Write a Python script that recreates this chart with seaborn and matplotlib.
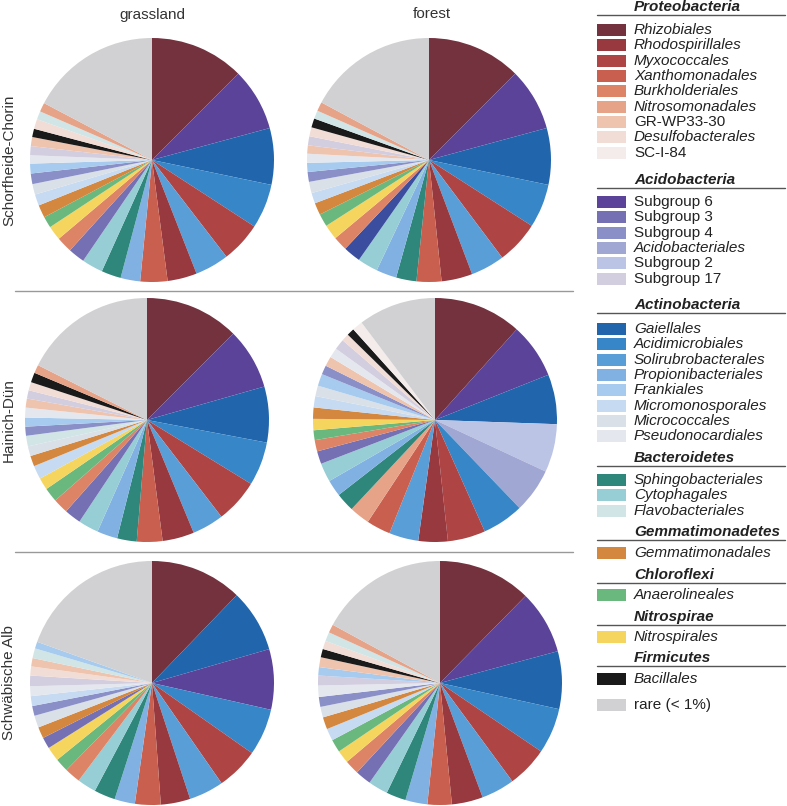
import seaborn as sns
import matplotlib.pyplot as plt
from matplotlib.patches import Rectangle

# ============================================================
# 1. DATA (clockwise from 12 o'clock, % of reads)
# ============================================================
sch_grass_orders = ["Rhizobiales", "Subgroup 6", "Gaiellales", "Acidimicrobiales", "Myxococcales",
                    "Solirubrobacterales", "Rhodospirillales", "Xanthomonadales", "Propionibacteriales",
                    "Sphingobacteriales", "Cytophagales", "Subgroup 3", "Burkholderiales", "Nitrospirales",
                    "Anaerolineales", "Gemmatimonadales", "Micromonosporales", "Micrococcales", "Subgroup 4",
                    "Frankiales", "Pseudonocardiales", "Subgroup 17", "GR-WP33-30", "Bacillales",
                    "Desulfobacterales", "Flavobacteriales", "Nitrosomonadales", "rare (< 1%)"]
sch_grass_values = [12.5, 8.3, 7.5, 5.9, 5.4, 4.5, 3.9, 3.6, 2.6, 2.6, 2.8, 2.2, 2.1, 1.9,
                    1.5, 1.7, 1.5, 1.4, 1.4, 1.3, 1.1, 1.2, 1.2, 1.1, 1.3, 1.1, 1.2, 17.3]

sch_forest_orders = ["Rhizobiales", "Subgroup 6", "Gaiellales", "Acidimicrobiales", "Myxococcales",
                     "Solirubrobacterales", "Rhodospirillales", "Xanthomonadales", "Sphingobacteriales",
                     "Propionibacteriales", "Cytophagales", "unlisted", "Burkholderiales", "Nitrospirales",
                     "Anaerolineales", "Gemmatimonadales", "Micromonosporales", "Micrococcales", "Subgroup 4",
                     "Frankiales", "Pseudonocardiales", "GR-WP33-30", "Subgroup 17", "Desulfobacterales",
                     "Bacillales", "Flavobacteriales", "Nitrosomonadales", "rare (< 1%)"]
sch_forest_values = [12.5, 8.3, 7.5, 5.8, 5.7, 4.5, 4.1, 3.3, 2.7, 2.7, 2.7, 2.3, 1.9, 2.0,
                     1.7, 1.6, 1.4, 1.5, 1.3, 1.2, 1.2, 1.1, 1.2, 1.2, 1.2, 1.1, 1.2, 17.2]

hai_grass_orders = ["Rhizobiales", "Subgroup 6", "Gaiellales", "Acidimicrobiales", "Myxococcales",
                    "Solirubrobacterales", "Rhodospirillales", "Xanthomonadales", "Sphingobacteriales",
                    "Propionibacteriales", "Cytophagales", "Subgroup 3", "Burkholderiales", "Anaerolineales",
                    "Nitrospirales", "Micromonosporales", "Gemmatimonadales", "Micrococcales",
                    "Flavobacteriales", "Subgroup 4", "Frankiales", "Pseudonocardiales", "GR-WP33-30",
                    "Subgroup 17", "Desulfobacterales", "Bacillales", "Nitrosomonadales", "rare (< 1%)"]
hai_grass_values = [12.5, 8.1, 7.4, 5.8, 5.8, 4.2, 4.2, 3.4, 2.6, 2.7, 2.7, 2.2, 2.0, 1.9,
                    1.6, 1.8, 1.4, 1.3, 1.4, 1.2, 1.2, 1.3, 1.2, 1.1, 1.1, 1.3, 1.1, 17.6]

hai_forest_orders = ["Rhizobiales", "Subgroup 6", "Gaiellales", "Subgroup 2", "Acidobacteriales",
                     "Acidimicrobiales", "Myxococcales", "Rhodospirillales", "Solirubrobacterales",
                     "Xanthomonadales", "Nitrosomonadales", "Sphingobacteriales", "Propionibacteriales",
                     "Cytophagales", "Subgroup 3", "Burkholderiales", "Anaerolineales", "Nitrospirales",
                     "Gemmatimonadales", "Micromonosporales", "Micrococcales", "Frankiales", "Subgroup 4",
                     "GR-WP33-30", "Pseudonocardiales", "Subgroup 17", "Desulfobacterales", "Bacillales",
                     "SC-I-84", "rare (< 1%)"]
hai_forest_values = [11.7, 7.3, 6.6, 6.4, 5.9, 5.5, 5.0, 3.9, 3.9, 3.2, 2.7, 2.5, 2.2, 2.5, 1.7,
                     1.5, 1.3, 1.5, 1.5, 1.5, 1.4, 1.6, 1.2, 1.3, 1.3, 1.4, 1.0, 1.0, 1.4, 10.3]

alb_grass_orders = ["Rhizobiales", "Gaiellales", "Subgroup 6", "Acidimicrobiales", "Myxococcales",
                    "Solirubrobacterales", "Rhodospirillales", "Xanthomonadales", "Propionibacteriales",
                    "Sphingobacteriales", "Cytophagales", "Burkholderiales", "Anaerolineales", "Nitrospirales",
                    "Subgroup 3", "Gemmatimonadales", "Micrococcales", "Subgroup 4", "Micromonosporales",
                    "Pseudonocardiales", "Subgroup 17", "Desulfobacterales", "GR-WP33-30",
                    "Flavobacteriales", "Frankiales", "rare (< 1%)"]
alb_grass_values = [12.2, 8.3, 8.0, 6.2, 5.6, 4.6, 3.9, 3.4, 2.7, 2.8, 2.5, 2.1, 1.8, 1.9,
                    1.5, 1.5, 1.6, 1.3, 1.3, 1.3, 1.4, 1.2, 1.1, 1.3, 0.9, 19.5]

alb_forest_orders = ["Rhizobiales", "Subgroup 6", "Gaiellales", "Acidimicrobiales", "Myxococcales",
                     "Solirubrobacterales", "Rhodospirillales", "Xanthomonadales", "Propionibacteriales",
                     "Sphingobacteriales", "Cytophagales", "Subgroup 3", "Burkholderiales", "Nitrospirales",
                     "Anaerolineales", "Micromonosporales", "Gemmatimonadales", "Micrococcales", "Subgroup 4",
                     "Pseudonocardiales", "Subgroup 17", "Frankiales", "GR-WP33-30", "Bacillales",
                     "Desulfobacterales", "Flavobacteriales", "Nitrosomonadales", "rare (< 1%)"]
alb_forest_values = [12.3, 8.4, 7.6, 6.0, 5.4, 4.4, 4.1, 3.2, 2.9, 2.6, 2.6, 2.1, 1.9, 1.7,
                     1.7, 1.6, 1.6, 1.4, 1.3, 1.5, 1.3, 1.1, 1.3, 1.1, 1.1, 1.2, 1.1, 17.0]

regions = ["Schorfheide-Chorin", "Hainich-Dün", "Schwäbische Alb"]
habitats = ["grassland", "forest"]

# legend groups (phylum -> orders)
phyla = ["Proteobacteria", "Acidobacteria", "Actinobacteria", "Bacteroidetes",
         "Gemmatimonadetes", "Chloroflexi", "Nitrospirae", "Firmicutes"]
phylum_orders = [
    ["Rhizobiales", "Rhodospirillales", "Myxococcales", "Xanthomonadales", "Burkholderiales",
     "Nitrosomonadales", "GR-WP33-30", "Desulfobacterales", "SC-I-84"],
    ["Subgroup 6", "Subgroup 3", "Subgroup 4", "Acidobacteriales", "Subgroup 2", "Subgroup 17"],
    ["Gaiellales", "Acidimicrobiales", "Solirubrobacterales", "Propionibacteriales", "Frankiales",
     "Micromonosporales", "Micrococcales", "Pseudonocardiales"],
    ["Sphingobacteriales", "Cytophagales", "Flavobacteriales"],
    ["Gemmatimonadales"],
    ["Anaerolineales"],
    ["Nitrospirales"],
    ["Bacillales"],
]
upright_names = ["GR-WP33-30", "SC-I-84", "Subgroup 6", "Subgroup 3", "Subgroup 4",
                 "Subgroup 2", "Subgroup 17", "rare (< 1%)"]

farben = {
    "Rhizobiales": "#74323f", "Rhodospirillales": "#97393f", "Myxococcales": "#ae4444",
    "Xanthomonadales": "#c9604f", "Burkholderiales": "#de8466", "Nitrosomonadales": "#e6a388",
    "GR-WP33-30": "#efc4ae", "Desulfobacterales": "#f1ddd5", "SC-I-84": "#f3ecea",
    "Subgroup 6": "#5b4399", "Subgroup 3": "#7570b3", "Subgroup 4": "#8a8fc8",
    "Acidobacteriales": "#a1a7d3", "Subgroup 2": "#bbc4e5", "Subgroup 17": "#d3cde0",
    "Gaiellales": "#2166ac", "Acidimicrobiales": "#3787c8", "Solirubrobacterales": "#5a9ed8",
    "Propionibacteriales": "#80b1e2", "Frankiales": "#a6cbee", "Micromonosporales": "#c6daf2",
    "Micrococcales": "#dae0e8", "Pseudonocardiales": "#e4e8ee",
    "Sphingobacteriales": "#2e877a", "Cytophagales": "#97cdd5", "Flavobacteriales": "#d1e5e6",
    "Gemmatimonadales": "#d4873e", "Anaerolineales": "#6bb87e", "Nitrospirales": "#f6d55e",
    "Bacillales": "#1a1a1a", "rare (< 1%)": "#d1d1d3", "unlisted": "#3a4d9f",
}

# ============================================================
# 2. FIGURE
# ============================================================
sns.set_theme(style="white")
plt.rcParams["font.family"] = ["Liberation Sans", "DejaVu Sans"]
W, H = 787, 806
fig = plt.figure(figsize=(W / 100, H / 100), dpi=100)

# full-figure pixel canvas for labels, lines, legend
canvas = fig.add_axes([0, 0, 1, 1])
canvas.set_xlim(0, W)
canvas.set_ylim(H, 0)
canvas.axis("off")

pies = [
    [(sch_grass_orders, sch_grass_values), (sch_forest_orders, sch_forest_values)],
    [(hai_grass_orders, hai_grass_values), (hai_forest_orders, hai_forest_values)],
    [(alb_grass_orders, alb_grass_values), (alb_forest_orders, alb_forest_values)],
]
centers_x = [[152, 429], [147, 435], [152, 440]]
centers_y = [160, 420, 683]
r = 122

for i, row in enumerate(pies):
    for j, (orders, values) in enumerate(row):
        cx, cy = centers_x[i][j], centers_y[i]
        ax = fig.add_axes([(cx - r) / W, (H - cy - r) / H, 2 * r / W, 2 * r / H])
        ax.pie(values, colors=[farben[o] for o in orders], startangle=90, counterclock=False,
               radius=1, wedgeprops={"linewidth": 0.3, "edgecolor": "none"})
        ax.set_xlim(-1, 1)
        ax.set_ylim(-1, 1)
        ax.axis("off")
    canvas.text(9, centers_y[i], regions[i], rotation=90, ha="center", va="center",
                fontsize=11, color="#333333")

canvas.text(152, 15, habitats[0], ha="center", va="center", fontsize=11, color="#333333")
canvas.text(432, 14, habitats[1], ha="center", va="center", fontsize=11, color="#333333")

for y in [291, 552]:
    canvas.plot([15, 573], [y, y], color="#999999", lw=1)

# ============================================================
# 3. LEGEND
# ============================================================
header_y = [7, 180, 305, 458, 532, 575, 617, 658]
first_item_y = [30, 202, 329, 480, 553, 595, 637, 679]
step = 15.35
for k, phylum in enumerate(phyla):
    canvas.text(634, header_y[k], phylum, fontsize=11, fontweight="bold", fontstyle="italic",
                ha="left", va="center", color="#222222")
    canvas.plot([597, 785], [header_y[k] + 7.5, header_y[k] + 7.5], color="#555555", lw=1)
    for n, name in enumerate(phylum_orders[k]):
        y = first_item_y[k] + n * step
        canvas.add_patch(Rectangle((597, y - 6), 29, 12, color=farben[name], lw=0))
        canvas.text(634, y, name, fontsize=11, ha="left", va="center", color="#222222",
                    fontstyle="normal" if name in upright_names else "italic")

y = 705
canvas.add_patch(Rectangle((597, y - 6), 29, 12, color=farben["rare (< 1%)"], lw=0))
canvas.text(634, y, "rare (< 1%)", fontsize=11, ha="left", va="center", color="#222222")

plt.savefig("out.png", dpi=100)
plt.close()
